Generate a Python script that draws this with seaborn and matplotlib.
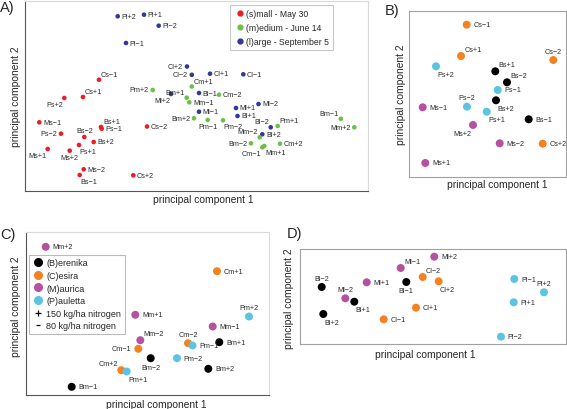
import numpy as np
import pandas as pd
import seaborn as sns
import matplotlib.pyplot as plt
from matplotlib.lines import Line2D

# ---- dados (escores PCA) ----
# painel A: todas as amostras, cor pela colheita (s/m/l)
a_names = ["Pl+2", "Pl+1", "Pl-2", "Pl-1", "Cl+2", "Cl-2", "Cl+1", "Cl-1",
           "Cs-1", "Cs+1", "Ps+2", "Pm+2", "Ml+2", "Bm+1", "Cm+1", "Bl-1",
           "Cm-2", "Mm-1", "Ml-1", "Ml+1", "Ml-2", "Bl+1", "Bm+2", "Pm-1",
           "Pm-2", "Cs-2", "Bl-2", "Pm+1", "Bl+2", "Mm-2", "Bm-2", "Cm-1",
           "Mm+1", "Cm+2", "Bm-1", "Mm+2", "Ms-1", "Ps-2", "Bs+1", "Ps-1",
           "Bs-2", "Bs+2", "Ps+1", "Ms+1", "Ms+2", "Ms-2", "Bs-1", "Cs+2"]
a_pc1 = [-7.88, -5.25, -3.78, -7.05, -0.95, -0.47, 1.35, 4.68,
         -9.75, -11.35, -13.22, -4.38, -2.55, -0.98, -0.47, 0.25,
         2.25, -0.72, 0.25, 3.95, 6.20, 4.10, -0.25, 1.12,
         2.65, -4.95, 7.42, 8.12, 6.58, 6.32, 5.45, 6.58,
         6.78, 8.35, 14.43, 15.78, -15.72, -13.55, -9.55, -9.48,
         -11.22, -10.28, -11.75, -14.88, -12.68, -11.28, -11.68, -6.32]
a_pc2 = [7.97, 8.13, 7.03, 5.30, 2.95, 2.12, 2.23, 2.17,
         1.63, -0.10, -0.20, 0.60, 0.20, -0.17, 0.95, 0.30,
         0.13, -0.63, -1.57, -1.20, -0.80, -2.00, -2.23, -2.40,
         -2.43, -3.05, -3.13, -3.00, -3.83, -4.13, -4.73, -5.13,
         -5.00, -4.77, -2.28, -3.13, -2.63, -3.77, -3.10, -3.27,
         -4.10, -4.60, -4.90, -5.30, -5.47, -7.33, -7.90, -7.93]

# painel B: colheita pequena (May 30)
b_names = ["Cs-1", "Cs+1", "Cs-2", "Ps+2", "Bs+1", "Bs-2", "Ps-1", "Bs+2",
           "Ps-2", "Ms-1", "Ps+1", "Bs-1", "Ms+2", "Ms-2", "Cs+2", "Ms+1"]
b_pc1 = [-2.08, -2.65, 6.58, -5.15, 0.78, 1.95, 1.02, 0.85,
         -2.05, -6.48, -0.08, 4.12, -1.45, 1.22, 5.52, -6.22]
b_pc2 = [6.93, 3.80, 3.40, 2.77, 2.27, 1.17, 0.40, -0.63,
         -1.27, -1.33, -1.77, -2.53, -3.10, -4.93, -4.97, -6.90]

# painel C: colheita media (June 14)
c_names = ["Mm+2", "Mm+1", "Mm-2", "Cm-1", "Cm-2", "Pm-1", "Bm-2", "Pm-2",
           "Cm+2", "Pm+1", "Bm-1", "Cm+1", "Pm+2", "Mm-1", "Bm+1", "Bm+2"]
c_pc1 = [-10.18, -1.22, -0.72, -0.92, 4.05, 4.50, 0.32, 2.95,
         -2.62, -2.08, -7.58, 6.95, 10.15, 6.52, 7.18, 6.08]
c_pc2 = [7.17, 0.37, -2.17, -3.03, -2.47, -2.70, -3.97, -3.97,
         -5.17, -5.30, -6.83, 4.73, 0.20, -0.80, -2.37, -5.03]

# painel D: colheita grande (September 5)
d_names = ["Bl-2", "Bl+2", "Ml-2", "Bl+1", "Ml+1", "Ml-1", "Bl-1", "Cl-1",
           "Ml+2", "Cl-2", "Cl+2", "Cl+1", "Pl-1", "Pl+2", "Pl+1", "Pl-2"]
d_pc1 = [-11.13, -10.97, -8.77, -7.87, -6.63, -3.23, -2.67, -4.93,
         0.13, -1.03, 0.57, -1.70, 8.13, 11.10, 8.07, 6.80]
d_pc2 = [0.95, -1.75, -0.18, -0.52, 1.42, 2.85, 1.45, -2.28,
         3.98, 1.95, 1.52, -1.12, 1.75, 0.42, -0.58, -4.02]

harvest_labels = {"s": "(s)mall - May 30", "m": "(m)edium - June 14", "l": "(l)arge - September 5"}
cultivar_labels = {"B": "(B)erenika", "C": "(C)esira", "M": "(M)aurica", "P": "(P)auletta"}

# ---- posicao dos rotulos (r, l, ur, ul, br, bl, a, b) ----
a_pos = ["r", "r", "r", "r", "l", "l", "r", "r",
         "ur", "ur", "bl", "l", "bl", "ul", "ur", "r",
         "r", "r", "r", "r", "r", "r", "l", "b",
         "br", "r", "ul", "ur", "r", "ul", "l", "bl",
         "br", "r", "ul", "l", "r", "l", "ur", "r",
         "a", "r", "br", "bl", "b", "r", "br", "r"]
b_pos = ["r", "ur", "a", "br", "ur", "ur", "r", "br",
         "a", "r", "br", "r", "bl", "r", "r", "r"]
c_pos = ["r", "r", "ur", "l", "a", "r", "b", "r",
         "ul", "br", "r", "r", "a", "r", "r", "r"]
d_pos = ["a", "br", "a", "br", "r", "ur", "b", "r",
         "r", "ur", "br", "r", "r", "a", "r", "r"]

sns.set_style("white")
plt.rcParams['font.family'] = ['Liberation Sans', 'DejaVu Sans']

harvest_pal = {"s": "#ee1c25", "m": "#6cc04a", "l": "#2e3a96"}
cultivar_pal = {"B": "#000000", "C": "#f58220", "M": "#b5519f", "P": "#5bc4e0"}

W, H = 567, 410
fig = plt.figure(figsize=(W / 100, H / 100), dpi=100)


def rect(l, t, r, b):
    return [l / W, 1 - b / H, (r - l) / W, (b - t) / H]


def put_labels(ax, names, xs, ys, pos, d, fs=5.2):
    dirs = {"r": (1, 0, "left", "center"), "l": (-1, 0, "right", "center"),
            "ur": (0.5, 0.5, "left", "bottom"), "ul": (-0.5, 0.5, "right", "bottom"),
            "br": (0.2, -0.7, "left", "top"), "bl": (-0.2, -0.7, "right", "top"),
            "a": (0, 0.8, "center", "bottom"), "b": (0, -0.8, "center", "top")}
    for n, x, y, p in zip(names, xs, ys, pos):
        dx, dy, ha, va = dirs[p]
        ax.annotate(n.replace("-", "\u2212"), (x, y), xytext=(dx * d, dy * d),
                    textcoords="offset points", ha=ha, va=va, fontsize=fs, color="#2a2a2a")


def style_ax(ax, dark_lb):
    ax.set_xticks([])
    ax.set_yticks([])
    for side, sp in ax.spines.items():
        sp.set_linewidth(0.8)
        if dark_lb:
            sp.set_color("#555555" if side in ("left", "bottom") else "#d9d9d9")
        else:
            sp.set_color("#a0a0a0")


# ---------------- A ----------------
axA = fig.add_axes(rect(25, 2, 368, 192))
dfA = pd.DataFrame({"name": a_names, "pc1": a_pc1, "pc2": a_pc2})
dfA["harvest"] = dfA["name"].str[1]
sns.scatterplot(data=dfA, x="pc1", y="pc2", hue="harvest", palette=harvest_pal,
                s=11, linewidth=0, legend=False, ax=axA)
put_labels(axA, a_names, a_pc1, a_pc2, a_pos, 2.7)
axA.set_xlim(-17.15, 17.15)
axA.set_ylim(-9.5, 9.5)
style_ax(axA, True)
hA = [Line2D([], [], marker="o", ls="", color=harvest_pal[k], markersize=3.5,
             label=harvest_labels[k]) for k in ["s", "m", "l"]]
legA = axA.legend(handles=hA, loc="upper left", bbox_to_anchor=(0.598, 0.979),
                  borderaxespad=0, fontsize=6.2, frameon=True, fancybox=False,
                  handletextpad=0.1, handlelength=1.2, labelspacing=0.55, borderpad=0.5)
legA.get_frame().set_edgecolor("#bbbbbb")
legA.get_frame().set_linewidth(0.8)

# ---------------- B ----------------
axB = fig.add_axes(rect(409, 12, 566, 178))
dfB = pd.DataFrame({"name": b_names, "pc1": b_pc1, "pc2": b_pc2})
dfB["cultivar"] = dfB["name"].str[0]
sns.scatterplot(data=dfB, x="pc1", y="pc2", hue="cultivar", palette=cultivar_pal,
                s=33, linewidth=0, legend=False, ax=axB)
put_labels(axB, b_names, b_pc1, b_pc2, b_pos, 4.8)
axB.set_xlim(-7.85, 7.85)
axB.set_ylim(-8.3, 8.3)
style_ax(axB, False)

# ---------------- C ----------------
axC = fig.add_axes(rect(26, 233, 269, 396))
dfC = pd.DataFrame({"name": c_names, "pc1": c_pc1, "pc2": c_pc2})
dfC["cultivar"] = dfC["name"].str[0]
sns.scatterplot(data=dfC, x="pc1", y="pc2", hue="cultivar", palette=cultivar_pal,
                s=33, linewidth=0, legend=False, ax=axC)
put_labels(axC, c_names, c_pc1, c_pc2, c_pos, 4.8)
axC.set_xlim(-12.15, 12.15)
axC.set_ylim(-7.65, 8.65)
style_ax(axC, True)
hC = [Line2D([], [], marker="o", ls="", color=cultivar_pal[k], markersize=5.5,
             label=cultivar_labels[k]) for k in ["B", "C", "M", "P"]]
hC.append(Line2D([], [], marker="+", ls="", color="black", markersize=5, mew=0.9,
                 label="150 kg/ha nitrogen"))
hC.append(Line2D([], [], marker="_", ls="", color="black", markersize=3.5, mew=0.9,
                 label="80 kg/ha nitrogen"))
legC = axC.legend(handles=hC, loc="upper left", bbox_to_anchor=(0.012, 0.86),
                  borderaxespad=0, fontsize=6.5, frameon=True, fancybox=False,
                  handletextpad=0.2, handlelength=1.3, labelspacing=0.4, borderpad=0.4)
legC.get_frame().set_edgecolor("#aaaaaa")
legC.get_frame().set_linewidth(0.8)

# ---------------- D ----------------
axD = fig.add_axes(rect(300, 250, 566, 345))
dfD = pd.DataFrame({"name": d_names, "pc1": d_pc1, "pc2": d_pc2})
dfD["cultivar"] = dfD["name"].str[0]
sns.scatterplot(data=dfD, x="pc1", y="pc2", hue="cultivar", palette=cultivar_pal,
                s=33, linewidth=0, legend=False, ax=axD)
put_labels(axD, d_names, d_pc1, d_pc2, d_pos, 4.8)
axD.set_xlim(-13.3, 13.3)
axD.set_ylim(-4.75, 4.75)
style_ax(axD, False)

# rotulos dos eixos
for ax, xl, yl in [(axA, (0.52, -0.016), (-0.012, 0.5)),
                   (axB, (0.559, -0.012), (-0.019, 0.5)),
                   (axC, (0.535, -0.024), (-0.02, 0.549)),
                   (axD, (0.4726, -0.053), (-0.023, 0.484))]:
    ax.set_xlabel("principal component 1", fontsize=7.4)
    ax.set_ylabel("principal component 2", fontsize=7.4)
    ax.xaxis.set_label_coords(*xl)
    ax.yaxis.set_label_coords(*yl)

# letras dos paineis
for letter, x, y in [("A)", 0, 1), ("B)", 385, 4), ("C)", 0, 228), ("D)", 287, 227)]:
    fig.text(x / W, 1 - y / H, letter, fontsize=10.5, ha="left", va="top")

fig.savefig("out.png", dpi=100)
